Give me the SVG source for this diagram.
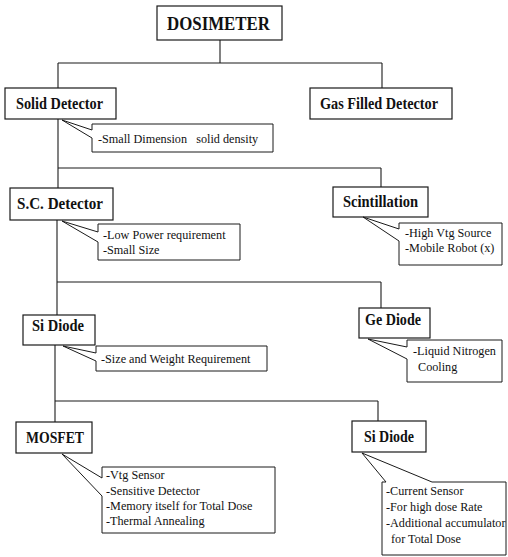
<svg xmlns="http://www.w3.org/2000/svg" width="508" height="557" viewBox="0 0 508 557">
<style>
  .bg{fill:#ffffff}
  .node rect{fill:#ffffff;stroke:#1a1a1a;stroke-width:1.2}
  .node text{font-family:"Liberation Serif","Times New Roman",serif;font-weight:bold;font-size:16px;fill:#111}
  .call path{fill:#ffffff;stroke:#1a1a1a;stroke-width:1}
  .call text{font-family:"Liberation Serif","Times New Roman",serif;font-size:12.2px;fill:#111}
  .conn line{stroke:#1a1a1a;stroke-width:1.1}
</style>
<rect class="bg" x="0" y="0" width="508" height="557"/>
<g id="connectors" class="conn">
  <line x1="220" y1="40" x2="220" y2="63"/>
  <line x1="58" y1="63" x2="382" y2="63"/>
  <line x1="58" y1="63" x2="58" y2="88"/>
  <line x1="382" y1="63" x2="382" y2="88"/>
  <line x1="58" y1="119" x2="58" y2="188"/>
  <line x1="58" y1="168" x2="381" y2="168"/>
  <line x1="381" y1="168" x2="381" y2="187"/>
  <line x1="57" y1="220" x2="57" y2="315"/>
  <line x1="57" y1="282" x2="381" y2="282"/>
  <line x1="381" y1="282" x2="381" y2="308"/>
  <line x1="55" y1="345" x2="55" y2="422"/>
  <line x1="55" y1="401" x2="378" y2="401"/>
  <line x1="378" y1="401" x2="378" y2="421"/>
</g>
<g id="dosimeter" class="node">
  <rect x="157" y="6" width="125" height="34"/>
  <text x="167" y="30" style="font-size:19px" textLength="103" lengthAdjust="spacingAndGlyphs">DOSIMETER</text>
</g>
<g id="solid-detector" class="node">
  <rect x="5" y="88" width="111" height="31"/>
  <text x="16" y="109" textLength="87" lengthAdjust="spacingAndGlyphs">Solid Detector</text>
</g>
<g id="gas-filled-detector" class="node">
  <rect x="310" y="88" width="142" height="31"/>
  <text x="320" y="109" textLength="118" lengthAdjust="spacingAndGlyphs">Gas Filled Detector</text>
</g>
<g id="solid-detector-note" class="call">
  <path d="M92,124 H273 V152 H92 V138 L62,120 L92,130 Z"/>
  <text x="98" y="143">-Small Dimension&#160;&#160; solid density</text>
</g>
<g id="sc-detector" class="node">
  <rect x="10" y="188" width="103" height="32"/>
  <text x="17" y="209" textLength="86" lengthAdjust="spacingAndGlyphs">S.C. Detector</text>
</g>
<g id="scintillation" class="node">
  <rect x="333" y="187" width="95" height="30"/>
  <text x="343" y="207" textLength="75" lengthAdjust="spacingAndGlyphs">Scintillation</text>
</g>
<g id="sc-detector-note" class="call">
  <path d="M98,224 H240 V260 H98 V242 L62,221 L98,232 Z"/>
  <text x="103" y="239">-Low Power requirement</text>
  <text x="103" y="254">-Small Size</text>
</g>
<g id="scintillation-note" class="call">
  <path d="M399,223 H502 V265 H399 V241 L363,217 L399,229 Z"/>
  <text x="405" y="237">-High Vtg Source</text>
  <text x="405" y="252">-Mobile Robot (x)</text>
</g>
<g id="si-diode" class="node">
  <rect x="23" y="315" width="72" height="30"/>
  <text x="32" y="331" textLength="52" lengthAdjust="spacingAndGlyphs">Si Diode</text>
</g>
<g id="ge-diode" class="node">
  <rect x="359" y="308" width="71" height="30"/>
  <text x="365" y="325" textLength="56" lengthAdjust="spacingAndGlyphs">Ge Diode</text>
</g>
<g id="si-diode-note" class="call">
  <path d="M96,346 H267 V371 H96 V361 L63,346 L96,353 Z"/>
  <text x="101" y="363">-Size and Weight Requirement</text>
</g>
<g id="ge-diode-note" class="call">
  <path d="M407,340 H502 V382 H407 V359 L368,339 L407,347 Z"/>
  <text x="413" y="355">-Liquid Nitrogen</text>
  <text x="418" y="371">Cooling</text>
</g>
<g id="mosfet" class="node">
  <rect x="16" y="422" width="76" height="31"/>
  <text x="26" y="443" textLength="58" lengthAdjust="spacingAndGlyphs">MOSFET</text>
</g>
<g id="si-diode-2" class="node">
  <rect x="352" y="421" width="74" height="31"/>
  <text x="364" y="442" textLength="50" lengthAdjust="spacingAndGlyphs">Si Diode</text>
</g>
<g id="mosfet-note" class="call">
  <path d="M102,467 H275 V533 H102 V496 L62,454 L102,478 Z"/>
  <text x="106" y="479">-Vtg Sensor</text>
  <text x="106" y="495">-Sensitive Detector</text>
  <text x="106" y="510">-Memory itself for Total Dose</text>
  <text x="106" y="525">-Thermal Annealing</text>
</g>
<g id="si-diode-2-note" class="call">
  <path d="M382,482 H386 L362,453 L432,482 H506 V555 H382 Z"/>
  <text x="386" y="495">-Current Sensor</text>
  <text x="386" y="511">-For high dose Rate</text>
  <text x="386" y="527">-Additional accumulator</text>
  <text x="391" y="543">for Total Dose</text>
</g>
</svg>
